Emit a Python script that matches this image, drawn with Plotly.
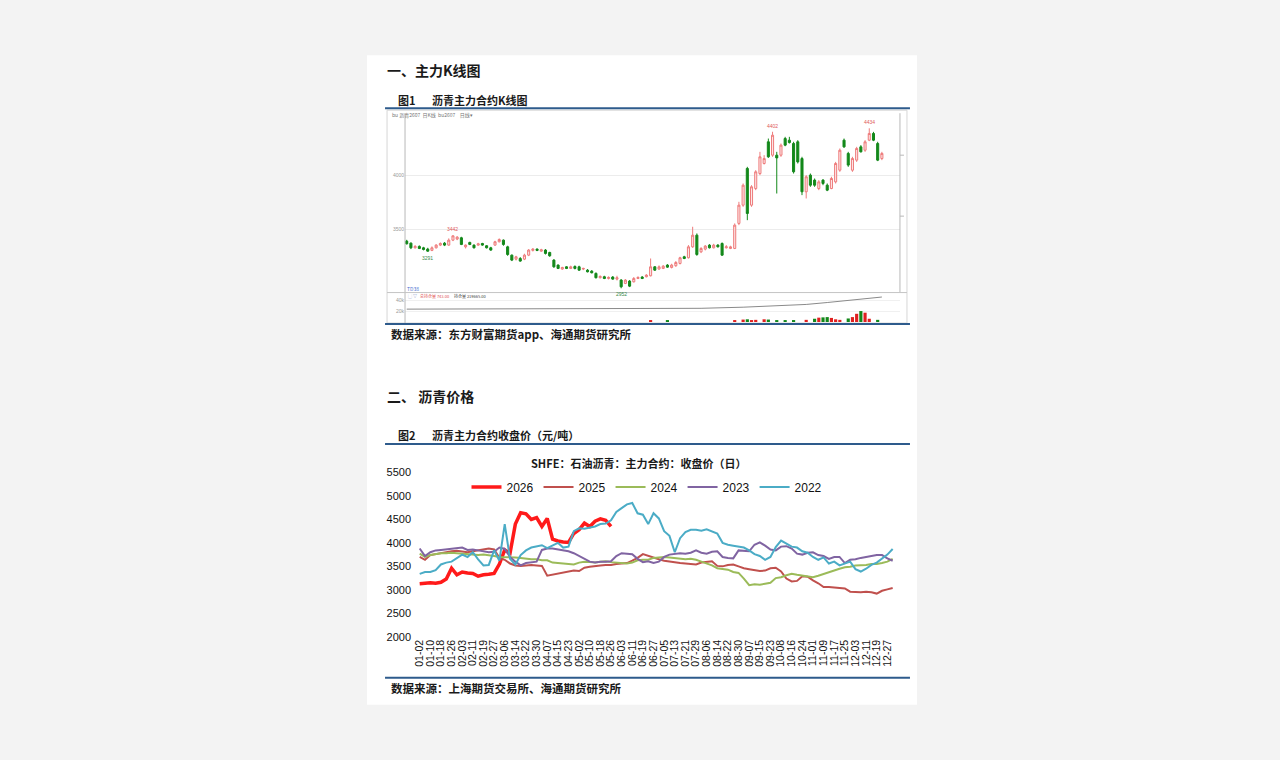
import plotly.graph_objects as go
import pandas as pd

W, H = 1280, 760
SX, SY = 0.997, 0.985  # compensation for the photographed page scale


def px(x):
    return (W / 2 + (x - W / 2) / SX) / W


def py(y):
    return 1 - (H / 2 + (y - H / 2) / SY) / H


# ---------------- Figure 1: K-line (weekly candles) ----------------
k_open = [3389, 3370, 3327, 3340, 3327, 3315, 3303, 3327, 3352, 3370,
          3352, 3398, 3408, 3420, 3336, 3377, 3352, 3352, 3367, 3346,
          3327, 3352, 3383, 3398, 3336, 3259, 3222, 3228, 3222, 3259,
          3303, 3315, 3296, 3306, 3284, 3213, 3167, 3130, 3151, 3136,
          3154, 3151, 3130, 3120, 3111, 3090, 3050, 3059, 3043, 3056,
          3037, 3028, 2997, 3019, 3012, 3043, 3056, 3059, 3068, 3151,
          3130, 3136, 3167, 3145, 3161, 3182, 3244, 3235, 3336, 3444,
          3290, 3315, 3352, 3327, 3352, 3367, 3327, 3321, 3321, 3553,
          3722, 4062, 3722, 3876, 4015, 4108, 4309, 4185, 4185, 4185,
          4339, 4324, 4293, 4309, 4154, 3846, 4000, 3954, 3876, 3954,
          3907, 3876, 3938, 4046, 4324, 4201, 4046, 4139, 4262, 4231,
          4324, 4386, 4293, 4154]
k_high = [3401, 3377, 3352, 3349, 3336, 3327, 3340, 3361, 3377, 3380,
          3414, 3442, 3435, 3429, 3358, 3383, 3358, 3373, 3373, 3352,
          3336, 3392, 3414, 3404, 3346, 3265, 3253, 3241, 3272, 3315,
          3324, 3321, 3318, 3315, 3290, 3222, 3173, 3151, 3157, 3161,
          3164, 3161, 3142, 3130, 3120, 3099, 3071, 3068, 3062, 3065,
          3068, 3037, 3037, 3028, 3056, 3062, 3065, 3083, 3228, 3157,
          3164, 3167, 3176, 3179, 3204, 3244, 3253, 3352, 3522, 3460,
          3333, 3352, 3361, 3364, 3361, 3377, 3352, 3346, 3553, 3753,
          3923, 4077, 3907, 4046, 4216, 4185, 4339, 4402, 4216, 4293,
          4355, 4355, 4309, 4324, 4170, 4000, 4015, 3969, 3954, 3963,
          3923, 3985, 4123, 4247, 4339, 4216, 4170, 4262, 4278, 4324,
          4434, 4401, 4309, 4216]
k_low = [3358, 3315, 3321, 3315, 3303, 3291, 3296, 3321, 3343, 3343,
         3346, 3389, 3398, 3352, 3321, 3352, 3321, 3346, 3346, 3321,
         3299, 3346, 3377, 3346, 3253, 3204, 3210, 3198, 3213, 3250,
         3293, 3296, 3290, 3265, 3244, 3142, 3130, 3124, 3130, 3130,
         3127, 3114, 3120, 3099, 3090, 3043, 3043, 3037, 3034, 3031,
         3025, 2952, 2991, 2963, 3006, 3037, 3037, 3053, 3062, 3114,
         3124, 3130, 3142, 3136, 3151, 3173, 3222, 3228, 3327, 3253,
         3278, 3303, 3321, 3321, 3330, 3253, 3321, 3315, 3315, 3537,
         3707, 3583, 3707, 3861, 4000, 4099, 4160, 4170, 3830, 4170,
         4268, 4293, 4015, 4108, 3815, 3784, 3892, 3892, 3861, 3907,
         3852, 3870, 3923, 4031, 4253, 4077, 4031, 4123, 4210, 4216,
         4315, 4315, 4130, 4139]
k_close = [3364, 3327, 3340, 3321, 3312, 3296, 3327, 3352, 3367, 3352,
           3398, 3438, 3426, 3358, 3352, 3358, 3327, 3364, 3352, 3327,
           3306, 3383, 3404, 3358, 3265, 3213, 3244, 3204, 3259, 3306,
           3315, 3303, 3309, 3275, 3253, 3151, 3136, 3145, 3136, 3151,
           3136, 3120, 3136, 3105, 3096, 3050, 3062, 3043, 3053, 3037,
           3050, 2966, 3028, 2972, 3043, 3053, 3043, 3074, 3151, 3120,
           3151, 3157, 3148, 3167, 3191, 3235, 3228, 3336, 3444, 3265,
           3321, 3343, 3327, 3352, 3336, 3259, 3336, 3336, 3537, 3722,
           3907, 3645, 3892, 4031, 4170, 4154, 4170, 4370, 4160, 4278,
           4278, 4302, 4031, 4123, 3846, 3985, 3907, 3907, 3938, 3923,
           3861, 3969, 4108, 4231, 4262, 4093, 4154, 4247, 4216, 4309,
           4386, 4324, 4139, 4201]
k_mark_high = [11, 87, 110]
k_mark_low = [5, 51]

# open interest (sampled candle index -> value) and volume
oi_idx = [0, 20, 40, 60, 70, 80, 90, 95, 100, 105, 108, 110, 113]
oi_val = [23500, 23600, 23800, 24300, 25000, 27000, 30000, 32000, 35500,
          39500, 42500, 44000, 45500]
vol_idx = [58, 62, 78, 80, 81, 82, 83, 85, 86, 88, 90, 92, 95, 97, 98, 99,
           100, 101, 102, 103, 105, 106, 107, 108, 109, 110, 112]
vol_val = [2500, 2000, 3000, 4500, 5000, 3500, 4000, 5000, 4500, 3000, 3500,
           2500, 4000, 6000, 8000, 8500, 9000, 7500, 5000, 4000, 6500, 9000,
           15000, 20000, 17000, 6000, 4000]

# ---------------- Figure 2: closing price by year ----------------
holidays = ["01-01", "05-01", "10-01", "10-02", "10-03", "10-04", "10-05",
            "10-06", "10-07"]
all_days = pd.date_range("2024-01-01", "2024-12-31").strftime("%m-%d")
categories = [d for d in all_days if d not in holidays]
sample_x = categories[::4]
tick_labels = categories[::8]

p2026 = [3130, 3140, 3150, 3140, 3160, 3230, 3460, 3320, 3380, 3360,
         3350, 3290, 3320, 3330, 3350, 3550, 3850, 3780, 4400, 4640,
         4620, 4500, 4540, 4350, 4520, 4080, 4040, 4020, 4010, 4200,
         4280, 4420, 4350, 4460, 4510, 4480, 4350]
p2025 = [3700, 3640, 3740, 3760, 3790, 3800, 3820, 3830, 3810, 3800,
         3820, 3840, 3860, 3880, 3860, 3680, 3640, 3560, 3520, 3510,
         3520, 3530, 3520, 3510, 3300, 3320, 3340, 3370, 3380, 3410,
         3400, 3470, 3490, 3510, 3520, 3530, 3530, 3550, 3560, 3570,
         3620, 3680, 3760, 3720, 3680, 3650, 3620, 3600, 3580, 3570,
         3560, 3550, 3540, 3580, 3600, 3610, 3510, 3500, 3530, 3540,
         3500, 3460, 3440, 3420, 3400, 3410, 3460, 3470, 3390, 3240,
         3180, 3190, 3290, 3280, 3200, 3140, 3060, 3060, 3050, 3050,
         3030, 2960, 2950, 2950, 2960, 2950, 2920, 2980, 3010, 3040]
p2024 = [3770, 3700, 3740, 3760, 3780, 3780, 3790, 3780, 3770, 3760,
         3750, 3740, 3750, 3740, 3720, 3700, 3700, 3700, 3690, 3680,
         3660, 3650, 3650, 3630, 3630, 3580, 3570, 3560, 3550, 3540,
         3580, 3600, 3590, 3580, 3600, 3610, 3590, 3580, 3570, 3560,
         3580, 3630, 3640, 3640, 3680, 3690, 3700, 3690, 3680, 3660,
         3650, 3660, 3640, 3600, 3560, 3520, 3460, 3440, 3430, 3380,
         3360, 3240, 3100, 3120, 3110, 3130, 3150, 3250, 3270, 3310,
         3340, 3320, 3300, 3280, 3270, 3300, 3340, 3370, 3420, 3450,
         3480, 3490, 3520, 3520, 3530, 3550, 3550, 3570, 3600, 3660]
p2023 = [3880, 3720, 3800, 3840, 3850, 3860, 3870, 3880, 3900, 3850,
         3860, 3840, 3820, 3800, 3810, 3900, 3870, 3700, 3600, 3520,
         3570, 3580, 3600, 3850, 3880, 3880, 3860, 3850, 3820, 3780,
         3720, 3650, 3600, 3580, 3600, 3600, 3610, 3720, 3780, 3770,
         3760, 3660, 3590, 3610, 3570, 3600, 3700, 3750, 3760, 3780,
         3770, 3790, 3840, 3790, 3770, 3810, 3820, 3700, 3680, 3670,
         3840, 3830, 3820, 3960, 4010, 3940, 3860, 3840, 3920, 3930,
         3880, 3770, 3750, 3790, 3800, 3740, 3720, 3660, 3700, 3700,
         3570, 3640, 3650, 3680, 3700, 3720, 3740, 3740, 3670, 3620]
p2022 = [3340, 3380, 3380, 3420, 3540, 3580, 3600, 3680, 3750, 3700,
         3800, 3650, 3520, 3530, 3840, 3620, 4400, 3660, 3540, 3740,
         3840, 3900, 3920, 3950, 3890, 3950, 4000, 3900, 3920, 4250,
         4310, 4300, 4330, 4350, 4400, 4410, 4480, 4660, 4740, 4820,
         4850, 4630, 4600, 4400, 4630, 4520, 4250, 4150, 3800, 4100,
         4230, 4280, 4280, 4260, 4290, 4250, 4200, 4000, 3960, 3940,
         3920, 3900, 3840, 3760, 3720, 3640, 3700, 3910, 4050, 3990,
         3920, 3900, 3820, 3790, 3700, 3640, 3690, 3560, 3600, 3520,
         3560, 3600, 3440, 3390, 3450, 3530, 3580, 3660, 3750, 3870]

series_names = ["2026", "2025", "2024", "2023", "2022"]
series_vals = [p2026, p2025, p2024, p2023, p2022]
series_colors = ["#ff1a1a", "#c0504d", "#9bbb59", "#8064a2", "#4bacc6"]
series_widths = [3.5, 2, 2, 2, 2]

fig = go.Figure()

k_idx = list(range(len(k_open)))
fig.add_trace(go.Candlestick(
    x=k_idx, open=k_open, high=k_high, low=k_low, close=k_close,
    increasing=dict(line=dict(color="#ee7b7b", width=1), fillcolor="#fde8e8"),
    decreasing=dict(line=dict(color="#13881a", width=1), fillcolor="#13881a"),
    whiskerwidth=0, showlegend=False, hoverinfo="skip",
    xaxis="x", yaxis="y"))

fig.add_trace(go.Scatter(
    x=oi_idx, y=oi_val, mode="lines", line=dict(color="#8a8a8a", width=1),
    showlegend=False, hoverinfo="skip", xaxis="x", yaxis="y3"))

vol_colors = ["#e02020" if k_close[i] >= k_open[i] else "#13881a" for i in vol_idx]
fig.add_trace(go.Bar(
    x=vol_idx, y=vol_val, marker=dict(color=vol_colors, line=dict(width=0)),
    width=0.75, showlegend=False, hoverinfo="skip", xaxis="x", yaxis="y3"))

for name, vals, col, wd in zip(series_names, series_vals, series_colors, series_widths):
    fig.add_trace(go.Scatter(
        x=sample_x[:len(vals)], y=vals, mode="lines", name=name,
        line=dict(color=col, width=wd), xaxis="x2", yaxis="y2"))

# K-chart labels from data
annotations = []
for i in k_mark_high:
    annotations.append(dict(x=i, y=k_high[i], xref="x", yref="y", text=str(k_high[i]),
                            showarrow=False, yanchor="bottom", yshift=1,
                            font=dict(size=5, color="#e05a5a", family="Arial")))
for i in k_mark_low:
    annotations.append(dict(x=i, y=k_low[i], xref="x", yref="y", text=str(k_low[i]),
                            showarrow=False, yanchor="top", yshift=-1,
                            font=dict(size=5, color="#3a8a4a", family="Arial")))

CJK = "Noto Sans CJK SC"


def txt(x, y, s, size=11, color="#1a1a1a", bold=True, anchor="left", family=CJK):
    annotations.append(dict(
        x=px(x), y=py(y), xref="paper", yref="paper",
        text=("<b>%s</b>" % s) if bold else s, showarrow=False,
        xanchor=anchor, yanchor="middle",
        font=dict(size=size, color=color, family=family)))


txt(383, 70, "一、主力K线图", size=14)
txt(394, 100, "图1", size=11)
txt(428, 100, "沥青主力合约K线图", size=11)
txt(387, 334, "数据来源：东方财富期货app、海通期货研究所", size=11.5)
txt(383, 396, "二、 沥青价格", size=14)
txt(394, 435, "图2", size=11)
txt(428, 435, "沥青主力合约收盘价（元/吨）", size=11)
txt(636, 463, "SHFE：石油沥青：主力合约：收盘价（日）", size=11, anchor="center")
txt(387, 688, "数据来源：上海期货交易所、海通期货研究所", size=11.5)

# tiny screenshot texts in K-chart
txt(388, 115, "bu 沥青2607  日K线  bu2607    日线▾", size=5, color="#777", bold=False)
txt(403, 288, "TD38", size=5, color="#4a6fd0", bold=False)
txt(404, 296, "▢ ▽", size=4, color="#7a8ac0", bold=False)
txt(416, 296, "总持仓量 743.00", size=4, color="#e05050", bold=False)
txt(450, 296, "持仓量 219665.00", size=4, color="#444", bold=False)

BLUE = "#2e5b8c"


def hline(y, x0, x1, color, width=1):
    return dict(type="line", xref="paper", yref="paper", x0=px(x0), x1=px(x1),
                y0=py(y), y1=py(y), line=dict(color=color, width=width))


def vline(x, y0, y1, color, width=1):
    return dict(type="line", xref="paper", yref="paper", x0=px(x), x1=px(x),
                y0=py(y0), y1=py(y1), line=dict(color=color, width=width))


shapes = [
    dict(type="rect", xref="paper", yref="paper", x0=px(365), x1=px(915),
         y0=py(705), y1=py(55), fillcolor="white", line=dict(width=0), layer="below"),
    dict(type="rect", xref="paper", yref="paper", x0=px(385), x1=px(905),
         y0=py(323), y1=py(110), line=dict(color="#d6d6d6", width=1), layer="below"),
    vline(403, 323, 113, "#b8b8b8"),
    vline(898, 292, 113, "#b8b8b8"),
    hline(292.5, 385, 905, "#c4c4c4"),
    hline(155, 898, 902, "#b8b8b8"),
    hline(216, 898, 902, "#b8b8b8"),
]
for yy in (108, 324, 444, 678):
    shapes.append(hline(yy, 383, 908, BLUE, 2))

fig.update_layout(
    width=W, height=H, autosize=False,
    margin=dict(l=0, r=0, t=0, b=0),
    paper_bgcolor="#f3f3f3", plot_bgcolor="rgba(0,0,0,0)",
    font=dict(family="Arial", color="#111"),
    showlegend=True,
    legend=dict(orientation="h", x=px(645), xanchor="center", y=py(487), yanchor="middle",
                font=dict(size=12, color="#111", family="Arial"), bgcolor="rgba(0,0,0,0)",
                itemwidth=30, tracegroupgap=0),
    xaxis=dict(domain=[px(403), px(898)], range=[-0.4, 117.3], anchor="y",
               showticklabels=False, showgrid=False, zeroline=False, ticks="",
               rangeslider=dict(visible=False), fixedrange=True),
    yaxis=dict(domain=[py(292), py(116)], range=[2917, 4546], anchor="x",
               tickvals=[3500, 4000], tickfont=dict(size=5, color="#999"),
               showgrid=True, gridcolor="#ececec", gridwidth=1, zeroline=False, ticks=""),
    yaxis3=dict(domain=[py(322), py(293)], range=[0, 52700], anchor="x",
                tickvals=[20000, 40000], tickfont=dict(size=5, color="#999"),
                showgrid=True, gridcolor="#f0f0f0", zeroline=False, ticks=""),
    xaxis2=dict(domain=[px(415), px(900)], anchor="y2", type="category",
                categoryorder="array", categoryarray=categories,
                tickmode="array", tickvals=tick_labels, tickangle=-90,
                tickfont=dict(size=10.5, color="#111", family="Arial"),
                range=[-2, 363], showgrid=False, zeroline=False, ticks="", showline=False),
    yaxis2=dict(domain=[py(637), py(472.5)], range=[2000, 5500], anchor="x2",
                dtick=500, tickfont=dict(size=11, color="#111", family="Arial"),
                ticklabelstandoff=5,
                showgrid=False, zeroline=False, ticks="", showline=False),
    shapes=shapes,
    annotations=annotations,
)

page_fix = ("document.documentElement.style.overflow='hidden';"
            "document.body.style.margin='0';"
            "document.body.style.overflow='hidden';"
            "document.body.style.background='#f3f3f3';")
fig.write_html("out.html", config={"displayModeBar": False, "responsive": False},
               post_script=page_fix)
